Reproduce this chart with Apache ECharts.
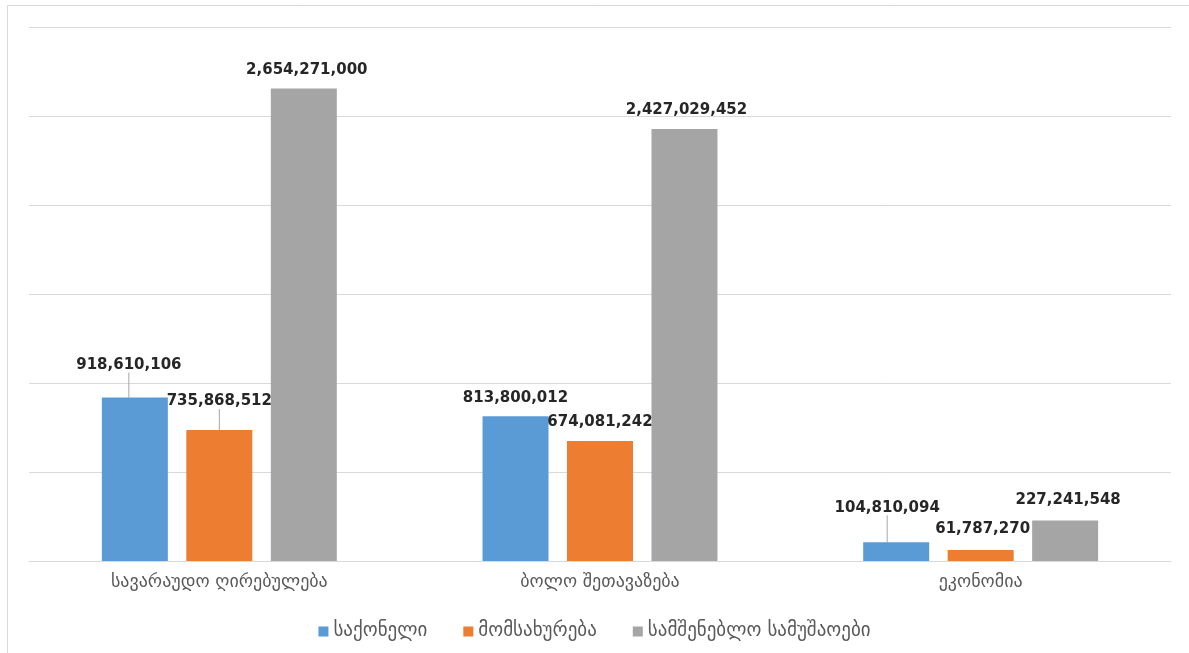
<!DOCTYPE html>
<html><head><meta charset="utf-8">
<script src="https://cdn.jsdelivr.net/npm/echarts@6/dist/echarts.min.js"></script>
<style>html,body{margin:0;padding:0;background:#fff}#c{width:1189px;height:653px}</style>
</head><body><div id="c"></div>
<script>
const categories = ['სავარაუდო ღირებულება', 'ბოლო შეთავაზება', 'ეკონომია'];
const seriesNames = ['საქონელი', 'მომსახურება', 'სამშენებლო სამუშაოები'];
const goods = [918610106, 813800012, 104810094];
const services = [735868512, 674081242, 61787270];
const construction = [2654271000, 2427029452, 227241548];
const colors = ['#5B9BD5', '#ED7D31', '#A5A5A5'];

// label displacement per [series][category] (layout only); leader line where moved far
const labelShift = [
  [[-6, -14], [0, 0], [-9, -16]],
  [[0, -10], [0, 0], [2, -2]],
  [[3, 0], [2, 0], [3, -2]]
];
const leader = [[true, false, true], [true, false, false], [false, false, false]];

const chart = echarts.init(document.getElementById('c'));
const fmt = v => v.toLocaleString('en-US');
const mk = (name, data, i) => ({
  name, type: 'bar',
  data: data.map((v, j) => ({ value: v, labelLine: { show: leader[i][j] } })),
  barWidth: 66, barGap: '28%',
  itemStyle: { color: colors[i] },
  label: {
    show: true, position: 'top', distance: 11,
    formatter: p => fmt(p.value),
    fontFamily: 'DejaVu Sans', fontWeight: 'bold', fontSize: 15, color: '#262626'
  },
  labelLine: { lineStyle: { color: '#a6a6a6', width: 1 } },
  labelLayout: p => ({ dx: labelShift[i][p.dataIndex][0], dy: labelShift[i][p.dataIndex][1] })
});
chart.setOption({
  animation: false,
  graphic: [{ type: 'rect', left: 5, top: 3, shape: { width: 1200, height: 700 },
    style: { fill: 'none', stroke: '#d9d9d9', lineWidth: 1 }, z: -1 }],
  grid: { left: 29, right: 18, top: 27, bottom: 92 },
  legend: {
    bottom: 7, left: 'center', itemWidth: 10, itemHeight: 10, itemGap: 36,
    icon: 'rect',
    textStyle: { fontFamily: 'DejaVu Sans', fontSize: 19, color: '#595959' },
    data: seriesNames
  },
  xAxis: {
    type: 'category', data: categories,
    axisLine: { lineStyle: { color: '#d9d9d9' } }, axisTick: { show: false },
    axisLabel: { fontFamily: 'DejaVu Sans', fontSize: 18, color: '#595959', margin: 12 }
  },
  yAxis: {
    type: 'value', min: 0, max: 3000000000, interval: 500000000,
    axisLabel: { show: false }, axisLine: { show: false }, axisTick: { show: false },
    splitLine: { lineStyle: { color: '#d9d9d9', width: 1 } }
  },
  series: [mk(seriesNames[0], goods, 0), mk(seriesNames[1], services, 1), mk(seriesNames[2], construction, 2)]
});
</script></body></html>
